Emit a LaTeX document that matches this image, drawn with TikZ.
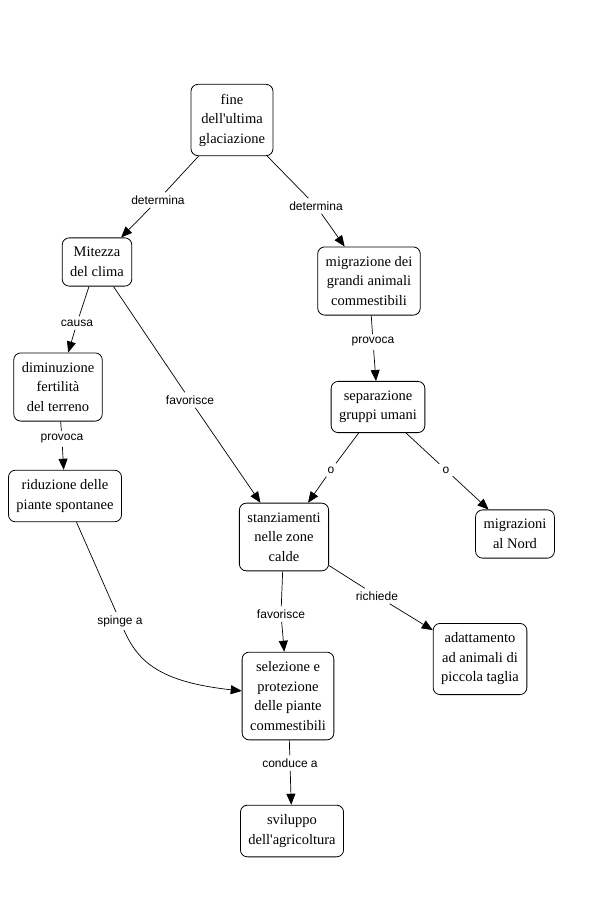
\documentclass[tikz,border=0pt]{standalone}
\usepackage{fontspec}
\setmainfont{Liberation Serif}
\newfontfamily\linkfont{Liberation Sans}
\usetikzlibrary{arrows.meta}
\definecolor{cline}{HTML}{000000}
\newcommand{\ap}{\textquotesingle}

\begin{document}
\begin{tikzpicture}[x=1pt,y=-1pt,line width=0.7pt,
  concept/.style={draw=cline,fill=white,rounded corners=7pt,line width=0.8pt,align=center,
    inner xsep=8pt,inner ysep=9.5pt,font=\fontsize{14.5}{19.5}\selectfont},
  link/.style={font=\linkfont\fontsize{12}{14}\selectfont,inner sep=3pt},
  arr/.style={-{Triangle[length=11pt,width=9pt]}}]
\fill[white] (0,0) rectangle (595,898);
\useasboundingbox (0,0) rectangle (595,898);
% concepts
\node[concept] (fine) at (232,120) {fine\\dell\ap ultima\\glaciazione};
\node[concept] (mit) at (97,262) {Mitezza\\del clima};
\node[concept] (migr) at (369,281) {migrazione dei\\grandi animali\\commestibili};
\node[concept] (dim) at (58,387) {diminuzione\\fertilità\\del terreno};
\node[concept] (sep) at (378,407) {separazione\\gruppi umani};
\node[concept] (rid) at (65,496) {riduzione delle\\piante spontanee};
\node[concept] (stanz) at (284,537) {stanziamenti\\nelle zone\\calde};
\node[concept] (nord) at (515,534) {migrazioni\\al Nord};
\node[concept] (adat) at (480,659) {adattamento\\ad animali di\\piccola taglia};
\node[concept] (sel) at (288,696) {selezione e\\protezione\\delle piante\\commestibili};
\node[concept] (svil) at (292,831) {sviluppo\\dell\ap agricoltura};
% links
\node[link] (detL) at (158,200) {determina};
\node[link] (detR) at (316,206) {determina};
\node[link] (causa) at (77,323) {causa};
\node[link] (favL) at (190,400) {favorisce};
\node[link] (provR) at (373,342) {provoca};
\node[link] (provL) at (62,439) {provoca};
\node[link] (oL) at (331,470) {o};
\node[link] (oR) at (446,470) {o};
\node[link] (spinge) at (120,621) {spinge a};
\node[link] (favB) at (281,614) {favorisce};
\node[link] (rich) at (377,596) {richiede};
\node[link] (cond) at (290,763) {conduce a};
% connectors
\draw (fine) -- (detL); \draw[arr] (detL) -- (mit);
\draw (fine) -- (detR); \draw[arr] (detR) -- (migr);
\draw (mit) -- (causa); \draw[arr] (causa) -- (dim);
\draw (mit) -- (favL); \draw[arr] (favL) -- (stanz);
\draw (migr) -- (provR); \draw[arr] (provR) -- (sep);
\draw (dim) -- (provL); \draw[arr] (provL) -- (rid);
\draw (sep) -- (oL); \draw[arr] (oL) -- (stanz);
\draw (sep) -- (oR); \draw[arr] (oR) -- (nord);
\draw (rid) -- (spinge);
\draw[arr] (spinge) .. controls (138,662) and (160,682) .. (sel);
\draw (stanz) -- (favB); \draw[arr] (favB) -- (sel);
\draw (stanz) -- (rich); \draw[arr] (rich) -- (adat);
\draw (sel) -- (cond); \draw[arr] (cond) -- (svil);
\end{tikzpicture}
\end{document}
